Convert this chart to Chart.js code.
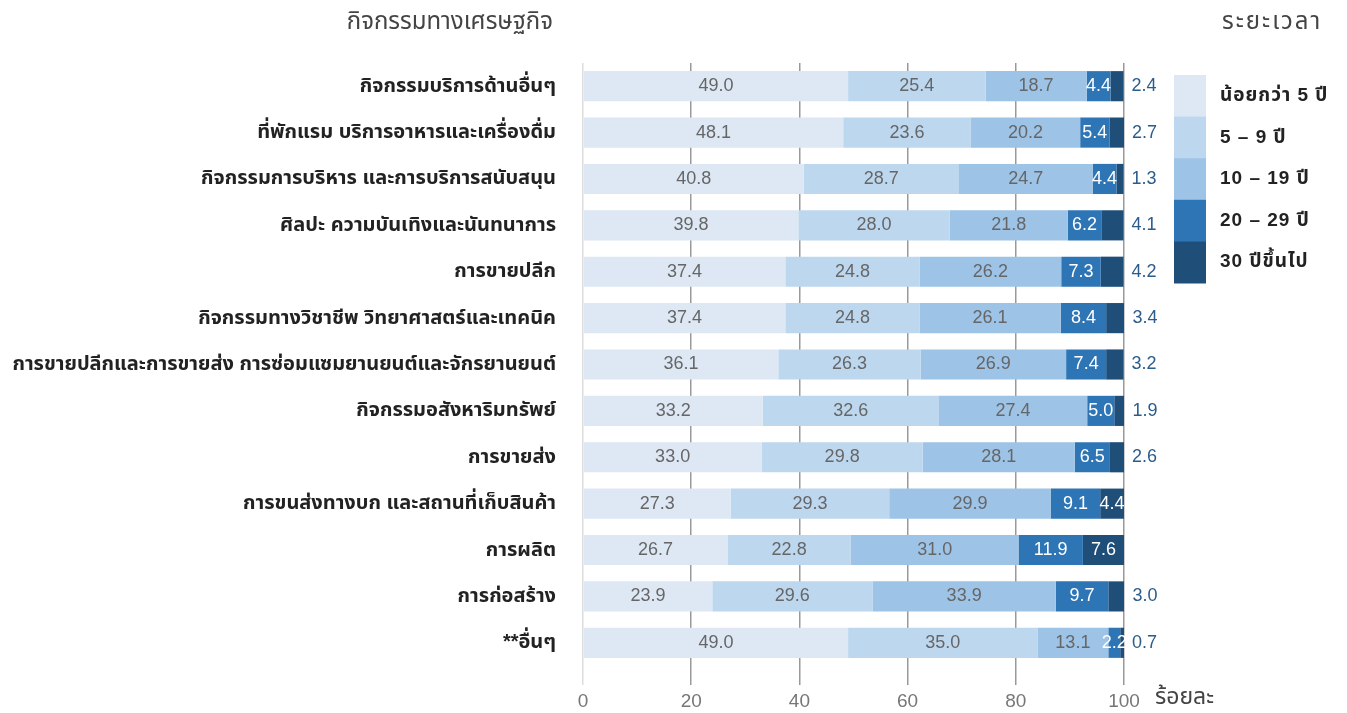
<!DOCTYPE html>
<html>
<head>
<meta charset="utf-8">
<script src="https://cdn.jsdelivr.net/npm/chart.js@4/dist/chart.umd.min.js"></script>
<style>
  html, body { margin: 0; padding: 0; background: #fff; }
  #wrap { width: 1347px; height: 713px; }
</style>
</head>
<body>
<div id="wrap"><canvas id="chart"></canvas></div>
<script>
// DATA
const categories = [
  'กิจกรรมบริการด้านอื่นๆ',
  'ที่พักแรม บริการอาหารและเครื่องดื่ม',
  'กิจกรรมการบริหาร และการบริการสนับสนุน',
  'ศิลปะ ความบันเทิงและนันทนาการ',
  'การขายปลีก',
  'กิจกรรมทางวิชาชีพ วิทยาศาสตร์และเทคนิค',
  'การขายปลีกและการขายส่ง การซ่อมแซมยานยนต์และจักรยานยนต์',
  'กิจกรรมอสังหาริมทรัพย์',
  'การขายส่ง',
  'การขนส่งทางบก และสถานที่เก็บสินค้า',
  'การผลิต',
  'การก่อสร้าง',
  '**อื่นๆ'
];
const seriesNames = ['น้อยกว่า 5 ปี', '5 – 9 ปี', '10 – 19 ปี', '20 – 29 ปี', '30 ปีขึ้นไป'];
const under5   = [49.0, 48.1, 40.8, 39.8, 37.4, 37.4, 36.1, 33.2, 33.0, 27.3, 26.7, 23.9, 49.0];
const y5to9    = [25.4, 23.6, 28.7, 28.0, 24.8, 24.8, 26.3, 32.6, 29.8, 29.3, 22.8, 29.6, 35.0];
const y10to19  = [18.7, 20.2, 24.7, 21.8, 26.2, 26.1, 26.9, 27.4, 28.1, 29.9, 31.0, 33.9, 13.1];
const y20to29  = [4.4, 5.4, 4.4, 6.2, 7.3, 8.4, 7.4, 5.0, 6.5, 9.1, 11.9, 9.7, 2.2];
const y30plus  = [2.4, 2.7, 1.3, 4.1, 4.2, 3.4, 3.2, 1.9, 2.6, 4.4, 7.6, 3.0, 0.7];
const xTicks   = [0, 20, 40, 60, 80, 100];

const colors = ['#dde8f4', '#bdd7ee', '#9dc3e6', '#2e75b6', '#1f4e79'];
const labelColors = ['#666666', '#666666', '#666666', '#ffffff', '#ffffff'];
const outsideColor = '#2b5c8c';
const THAI = '"Liberation Sans", "Noto Sans Thai", "Noto Sans", sans-serif';

const allSeries = [under5, y5to9, y10to19, y20to29, y30plus];

// draws numbers on the bars
const barLabels = {
  id: 'barLabels',
  afterDatasetsDraw(chart) {
    const ctx = chart.ctx;
    ctx.save();
    ctx.font = '18px ' + THAI;
    ctx.textBaseline = 'middle';
    chart.data.datasets.forEach((ds, di) => {
      const meta = chart.getDatasetMeta(di);
      meta.data.forEach((bar, i) => {
        const v = ds.data[i];
        const txt = v.toFixed(1);
        if (di === 4 && v < 4.3) {
          ctx.fillStyle = outsideColor;
          ctx.textAlign = 'left';
          ctx.fillText(txt, bar.x + 8, bar.y);
        } else {
          ctx.fillStyle = labelColors[di];
          ctx.textAlign = 'center';
          ctx.fillText(txt, (bar.x + bar.base) / 2, bar.y);
        }
      });
    });
    ctx.restore();
  }
};

// titles and the block legend on the right
const extras = {
  id: 'extras',
  afterDraw(chart) {
    const ctx = chart.ctx;
    ctx.save();
    ctx.fillStyle = '#444';
    ctx.font = '24px ' + THAI;
    ctx.textBaseline = 'middle';
    ctx.textAlign = 'right';
    ctx.fillText('กิจกรรมทางเศรษฐกิจ', 553, 22);
    ctx.textAlign = 'left';
    ctx.letterSpacing = '2px';
    ctx.fillText('ระยะเวลา', 1222, 22);
    ctx.letterSpacing = '0px';
    ctx.font = '23px ' + THAI;
    ctx.fillText('ร้อยละ', 1155, 698);

    const top = 75, h = 41.6;
    seriesNames.forEach((name, i) => {
      ctx.fillStyle = colors[i];
      ctx.fillRect(1174, top + i * h, 32, h + 0.5);
      ctx.fillStyle = '#222';
      ctx.font = 'bold 19px ' + THAI;
      ctx.letterSpacing = '1px';
      ctx.fillText(name, 1220, top + i * h + h / 2);
    });
    ctx.restore();
  }
};

new Chart(document.getElementById('chart'), {
  type: 'bar',
  data: {
    labels: categories,
    datasets: allSeries.map((d, i) => ({
      label: seriesNames[i],
      data: d,
      backgroundColor: colors[i],
      borderWidth: 0,
      barPercentage: 0.65,
      categoryPercentage: 1
    }))
  },
  options: {
    indexAxis: 'y',
    responsive: true,
    maintainAspectRatio: false,
    animation: false,
    layout: { padding: { left: 0, right: 223, top: 63, bottom: 0 } },
    plugins: {
      legend: { display: false },
      tooltip: { enabled: false }
    },
    scales: {
      x: {
        stacked: true,
        min: 0,
        max: 100,
        afterBuildTicks: s => { s.ticks = xTicks.map(v => ({ value: v })); },
        afterFit: s => { s.height = 47; },
        border: { display: false },
        grid: {
          color: c => c.index === 0 ? '#dddddd' : '#999999',
          lineWidth: 1.5,
          tickLength: 19
        },
        ticks: {
          padding: 5,
          color: '#777',
          font: { family: '"Liberation Sans", Arial, sans-serif', size: 19 }
        }
      },
      y: {
        stacked: true,
        afterFit: s => { s.width = 583; },
        border: { display: false },
        grid: { display: false, drawTicks: false },
        ticks: {
          padding: 27,
          color: '#222',
          font: { family: THAI, size: 20, weight: 'bold' }
        }
      }
    }
  },
  plugins: [barLabels, extras]
});
</script>
</body>
</html>
